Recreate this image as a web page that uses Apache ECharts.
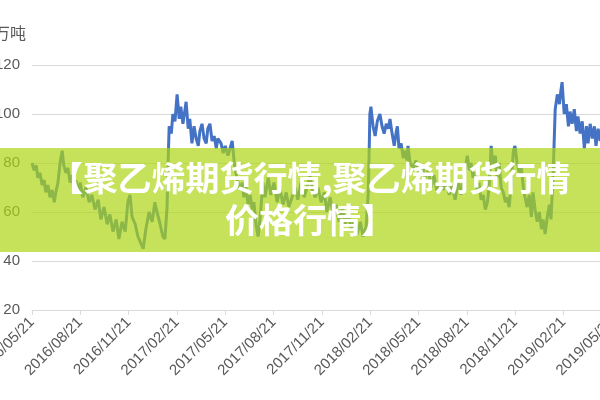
<!DOCTYPE html>
<html>
<head>
<meta charset="utf-8">
<script src="https://cdn.jsdelivr.net/npm/echarts@6/dist/echarts.min.js"></script>
<style>html,body{margin:0;padding:0;background:#fff}#c{width:600px;height:400px}</style>
</head>
<body>
<div id="c"></div>
<script>
// Tick labels (quarterly)
const tickLabels = ['2016/05/21','2016/08/21','2016/11/21','2017/02/21','2017/05/21','2017/08/21','2017/11/21','2018/02/21','2018/05/21','2018/08/21','2018/11/21','2019/02/21','2019/05/21'];
const unitLabel = '万吨';
const bannerText = '【聚乙烯期货行情,聚乙烯期货行情\n价格行情】';
// Days since 2016/05/21
const dayOffsets = [0,4,8,11,15,19,23,26,30,34,38,42,45,49,53,57,60,64,68,72,76,79,83,87,91,96,102,108,113,119,125,130,136,142,147,153,159,164,170,176,181,185,189,195,200,206,210,215,221,227,232,236,242,247,251,255,257,259,263,266,270,274,278,281,285,289,291,295,298,302,306,310,314,317,321,325,329,332,336,340,344,348,351,357,361,365,370,374,378,382,385,389,393,397,400,404,408,412,416,419,423,427,431,436,440,446,451,457,463,468,474,480,485,491,497,502,508,514,519,525,529,535,540,546,552,557,563,569,574,580,586,591,597,603,608,614,620,625,631,635,637,638,640,644,648,652,657,661,665,669,673,676,680,684,688,690,693,697,701,705,708,710,714,720,725,731,737,742,748,754,759,765,771,776,782,788,793,799,805,810,816,822,826,829,833,837,841,844,848,852,856,860,863,867,871,875,878,882,886,890,894,897,901,905,909,912,916,920,924,928,931,935,939,943,946,950,954,958,962,965,969,973,977,980,984,988,992,996,999,1001,1005,1009,1013,1016,1020,1024,1028,1031,1035,1039,1043,1047,1050,1054,1058,1062,1065,1069,1073,1079];
// Values (万吨)
const values = [80,77,79,74,76,71,73,68,71,66,69,64,68,72,80,85,79,76,78,72,75,69,73,68,72,66,70,64,67,61,65,57,62,55,59,52,57,49,56,52,64,67,58,55,50,47,45,53,60,56,64,60,55,50,49,62,80,95,92,100,97,108,98,103,96,102,105,94,98,88,95,90,87,93,96,90,88,94,96,89,91,86,90,88,84,87,83,86,89,80,76,72,69,72,66,70,63,67,61,64,55,50,58,72,66,74,67,72,64,70,63,68,62,66,70,65,72,66,70,75,69,66,70,64,68,60,66,58,63,56,62,55,59,53,57,51,56,50,54,68,88,100,103,95,91,97,100,95,92,96,94,98,92,87,93,95,86,88,82,85,81,87,80,78,81,75,79,74,77,70,75,68,72,69,72,67,71,65,73,67,75,83,77,80,74,76,68,72,65,67,61,64,70,87,78,83,74,80,70,68,64,66,62,72,85,87,80,76,78,70,66,62,67,58,68,61,56,60,53,57,51,58,63,57,75,102,108,104,110,113,100,104,95,101,96,102,93,99,92,97,86,95,88,96,90,95,87,94,89,93];

const DAYS_PER_QUARTER = 91.25;
const seriesData = dayOffsets.map((d, i) => [d, values[i]]);

const chart = echarts.init(document.getElementById('c'));
chart.setOption({
  animation: false,
  grid: { left: 32, top: 65, bottom: 90, width: 609, outerBoundsMode: 'none', containLabel: false },
  xAxis: {
    type: 'value', min: 0, max: 1150, interval: DAYS_PER_QUARTER,
    axisLine: { show: true, lineStyle: { color: '#d9d9d9', width: 1 } },
    axisTick: { show: true, length: 5, lineStyle: { color: '#d9d9d9' } },
    splitLine: { show: false },
    axisLabel: {
      rotate: 45, margin: 10, color: '#595959', fontSize: 15,
      fontFamily: 'Liberation Sans', showMaxLabel: false, hideOverlap: false,
      formatter: v => {
        const i = Math.round(v / DAYS_PER_QUARTER);
        return Math.abs(v - i * DAYS_PER_QUARTER) < 1 ? (tickLabels[i] || '') : '';
      }
    }
  },
  yAxis: {
    type: 'value', min: 20, max: 120, interval: 20,
    axisLine: { show: false }, axisTick: { show: false },
    splitLine: { lineStyle: { color: '#d9d9d9', width: 1 } },
    axisLabel: { color: '#595959', fontSize: 15, margin: 12, fontFamily: 'Liberation Sans' }
  },
  series: [{
    type: 'line', data: seriesData, showSymbol: false,
    lineStyle: { color: '#4472c4', width: 3 }, z: 2
  }],
  graphic: [
    { type: 'text', x: 26, y: 33, style: { text: unitLabel, fill: '#595959', font: '16px "Noto Sans CJK SC"', textAlign: 'right', textVerticalAlign: 'middle' } },
    { type: 'rect', left: 0, top: 148, shape: { width: 600, height: 104 }, style: { fill: 'rgba(172,214,20,0.7)' }, z: 100 },
    { type: 'text', x: 310, y: 199, z: 101, style: { text: bannerText, fill: '#ffffff', font: 'bold 34px "Noto Sans CJK SC"', textAlign: 'center', textVerticalAlign: 'middle', lineHeight: 42 } }
  ]
});
</script>
</body>
</html>
